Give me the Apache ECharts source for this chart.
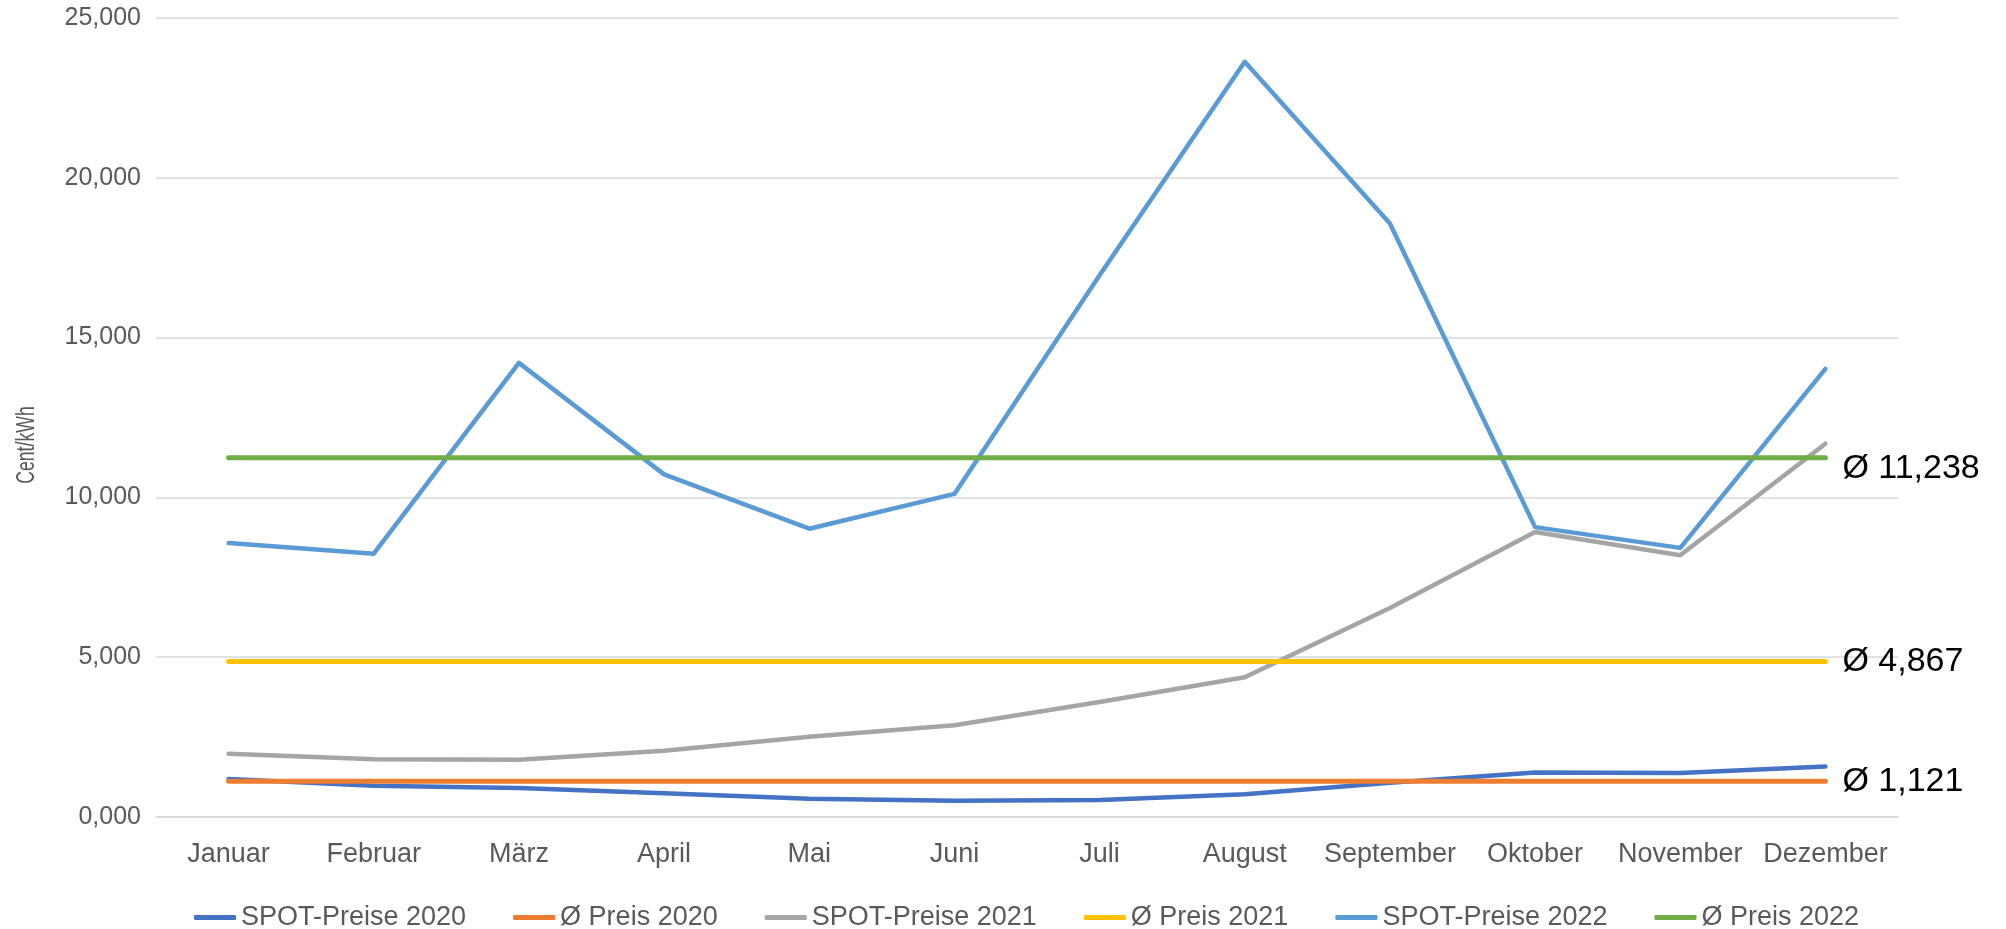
<!DOCTYPE html>
<html>
<head>
<meta charset="utf-8">
<script src="https://cdn.jsdelivr.net/npm/echarts@6/dist/echarts.min.js"></script>
<style>html,body{margin:0;padding:0;background:#fff}#c{width:2006px;height:929px}</style>
</head>
<body>
<div id="c"></div>
<script>
const months = ['Januar','Februar','März','April','Mai','Juni','Juli','August','September','Oktober','November','Dezember'];
const spot2020 = [1.19, 0.98, 0.91, 0.74, 0.57, 0.51, 0.53, 0.71, 1.07, 1.39, 1.38, 1.58];
const spot2021 = [1.98, 1.81, 1.79, 2.07, 2.51, 2.87, 3.60, 4.37, 6.54, 8.92, 8.19, 11.68];
const spot2022 = [8.57, 8.24, 14.21, 10.72, 9.02, 10.11, 16.95, 23.63, 18.57, 9.07, 8.42, 14.02];
const avg2020 = 1.121;
const avg2021 = 4.867;
const avg2022 = 11.238;
const yTicks = [0, 5, 10, 15, 20, 25];

const fmt = v => v.toFixed(3).replace('.', ',');
const FONT = '"Liberation Sans", Arial, sans-serif';

function spot(name, data, color) {
  return {
    name, type: 'line', data, color,
    symbol: 'none', smooth: false,
    lineStyle: { width: 4.5, color, cap: 'round', join: 'round' }
  };
}
function avg(name, value, color, dy) {
  return {
    name, type: 'line', data: months.map(() => value), color,
    symbol: 'none',
    lineStyle: { width: 5, color, cap: 'round' },
    endLabel: {
      show: true, formatter: 'Ø ' + fmt(value), distance: 17, offset: [0, dy],
      fontSize: 34, color: '#000', fontFamily: FONT
    }
  };
}

const chart = echarts.init(document.getElementById('c'), null, { renderer: 'canvas' });
chart.setOption({
  animation: false,
  backgroundColor: '#fff',
  grid: { left: 156, right: 108, top: 18, bottom: 112, containLabel: false },
  xAxis: {
    type: 'category', data: months, boundaryGap: true,
    axisLine: { show: true, lineStyle: { color: '#d9d9d9', width: 1.5 } },
    axisTick: { show: false },
    axisLabel: { color: '#595959', fontSize: 27, margin: 24, fontFamily: FONT, interval: 0 }
  },
  yAxis: {
    type: 'value', min: yTicks[0], max: yTicks[yTicks.length - 1], interval: 5,
    axisLine: { show: false }, axisTick: { show: false },
    splitLine: { lineStyle: { color: '#d9d9d9', width: 1.5 } },
    axisLabel: { color: '#595959', fontSize: 25, margin: 15, fontFamily: FONT, formatter: v => fmt(v) }
  },
  legend: {
    top: 899, left: 189,
    itemWidth: 42, itemHeight: 5, itemGap: 47, icon: 'roundRect',
    textStyle: { color: '#595959', fontSize: 27, fontFamily: FONT },
    data: ['SPOT-Preise 2020','Ø Preis 2020','SPOT-Preise 2021','Ø Preis 2021','SPOT-Preise 2022','Ø Preis 2022']
  },
  graphic: [{
    type: 'text', x: 27, y: 445, rotation: Math.PI / 2, scaleX: 0.68,
    style: { text: 'Cent/kWh', fill: '#595959', font: '26px ' + FONT, align: 'center', verticalAlign: 'middle' }
  }],
  series: [
    spot('SPOT-Preise 2020', spot2020, '#4472C4'),
    avg('Ø Preis 2020', avg2020, '#ED7D31', 0),
    spot('SPOT-Preise 2021', spot2021, '#A5A5A5'),
    avg('Ø Preis 2021', avg2021, '#FFC000', 0),
    spot('SPOT-Preise 2022', spot2022, '#5B9BD5'),
    avg('Ø Preis 2022', avg2022, '#70AD47', 11)
  ]
});
</script>
</body>
</html>
